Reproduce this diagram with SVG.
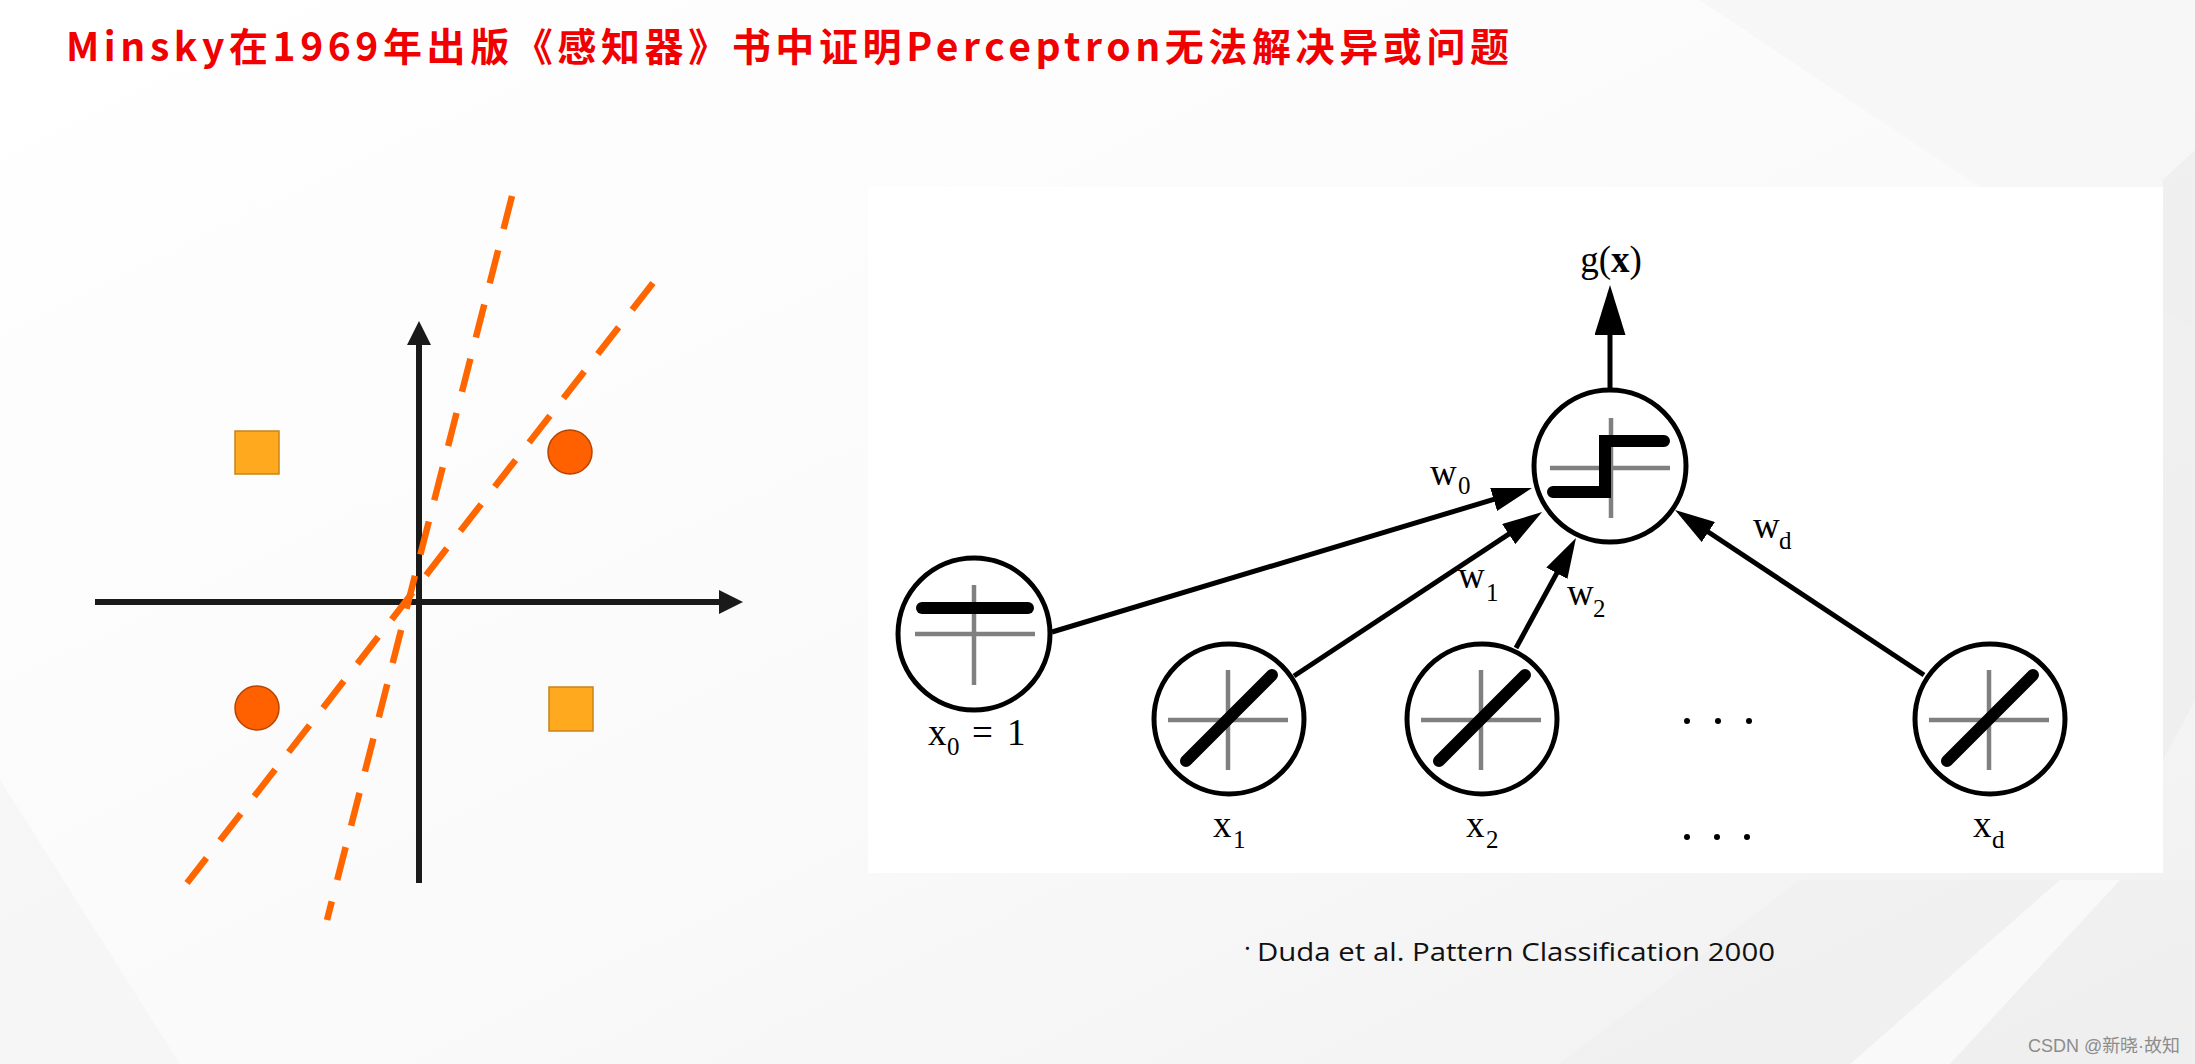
<svg xmlns="http://www.w3.org/2000/svg" width="2195" height="1064" viewBox="0 0 2195 1064">
  <defs>
    <linearGradient id="bg" x1="0" y1="0" x2="1" y2="1">
      <stop offset="0" stop-color="#FFFFFF"/>
      <stop offset="0.55" stop-color="#FAFAFA"/>
      <stop offset="1" stop-color="#F0F0F0"/>
    </linearGradient>
    <marker id="arr" markerUnits="userSpaceOnUse" markerWidth="40" markerHeight="24" refX="20" refY="12" orient="auto">
      <path d="M0,0 L40,12 L0,24 Z" fill="#000"/>
    </marker>
    <marker id="arrBig" markerUnits="userSpaceOnUse" markerWidth="50" markerHeight="31" refX="25" refY="15.5" orient="auto">
      <path d="M0,0 L50,15.5 L0,31 Z" fill="#000"/>
    </marker>
    <marker id="axArr" markerUnits="userSpaceOnUse" markerWidth="24" markerHeight="24" refX="12" refY="12" orient="auto">
      <path d="M0,0 L24,12 L0,24 Z" fill="#1A1A1A"/>
    </marker>
  </defs>
  <style>
    .title{font-family:"Noto Sans CJK SC","Liberation Sans",sans-serif;font-weight:bold;font-size:39px;fill:#F00000}
    .axis{stroke:#1A1A1A;stroke-width:6;fill:none}
    .sep{stroke:#FF6600;stroke-width:6.5;fill:none;stroke-dasharray:34 22}
    .sq{fill:#FFAA1E;stroke:#C8841A;stroke-width:1.5}
    .dot{fill:#FF6000;stroke:#B84400;stroke-width:1.5}
    .ring{fill:#FFFFFF;stroke:#000;stroke-width:5}
    .gray{stroke:#808080;stroke-width:4.5;fill:none}
    .blk{stroke:#000;stroke-width:12;stroke-linecap:round;stroke-linejoin:miter;fill:none}
    .edge{stroke:#000;stroke-width:5;fill:none}
    .lbl{font-family:"Liberation Serif","Times New Roman",serif;font-size:37px;fill:#000}
    .sub{font-family:"Liberation Serif","Times New Roman",serif;font-size:25px;fill:#000}
    .cite{font-family:"Open Sans","Liberation Sans",sans-serif;font-size:26px;fill:#111}
    .wm{font-family:"Liberation Sans","Noto Sans CJK SC",sans-serif;font-size:18px;fill:#8C8C8C}
  </style>

  <!-- background -->
  <rect x="0" y="0" width="2195" height="1064" fill="url(#bg)"/>
  <polygon points="1700,0 2195,0 2195,330" fill="#F3F3F3" opacity="0.5"/>
  <polygon points="2163,180 2195,150 2195,700 2163,760" fill="#ECECEC" opacity="0.7"/>
  <polygon points="1560,1064 1800,880 2195,880 2195,1064" fill="#EEEEEE" opacity="0.5"/>
  <polygon points="1850,1064 2060,880 2120,880 1950,1064" fill="#FAFAFA" opacity="0.9"/>
  <polygon points="0,780 180,1064 0,1064" fill="#F2F2F2" opacity="0.5"/>
  <rect x="868" y="187" width="1295" height="686" fill="#FFFFFF"/>

  <!-- title -->
  <text id="title" class="title" x="66" y="61" textLength="1443" lengthAdjust="spacing">Minsky在1969年出版《感知器》书中证明Perceptron无法解决异或问题</text>

  <!-- XOR plot -->
  <g id="xor-plot">
    <line class="axis" x1="95" y1="602" x2="731" y2="602" marker-end="url(#axArr)"/>
    <line class="axis" x1="419" y1="883" x2="419" y2="333" marker-end="url(#axArr)"/>
    <rect class="sq" x="235" y="431" width="44" height="43"/>
    <rect class="sq" x="549" y="687" width="44" height="44"/>
    <circle class="dot" cx="570" cy="452" r="22"/>
    <circle class="dot" cx="257" cy="708" r="22"/>
    <line class="sep" x1="512" y1="196" x2="327" y2="920"/>
    <line class="sep" x1="653" y1="283" x2="187" y2="883"/>
  </g>

  <!-- connectors -->
  <g id="connectors">
    <line class="edge" x1="1052" y1="632" x2="1512.8" y2="493.7" marker-end="url(#arr)"/>
    <line class="edge" x1="1294" y1="676" x2="1525.4" y2="523.1" marker-end="url(#arr)"/>
    <line class="edge" x1="1516" y1="648" x2="1566.4" y2="555.6" marker-end="url(#arr)"/>
    <line class="edge" x1="1924" y1="675" x2="1691.7" y2="521" marker-end="url(#arr)"/>
    <line class="edge" x1="1610" y1="390" x2="1610" y2="310" stroke-width="7.5" marker-end="url(#arrBig)"/>
  </g>

  <!-- nodes -->
  <g id="node-out">
    <circle class="ring" cx="1610" cy="466" r="76"/>
    <line class="gray" x1="1550" y1="468" x2="1670" y2="468"/>
    <line class="gray" x1="1611" y1="418" x2="1611" y2="518"/>
    <polyline class="blk" points="1553,492 1605,492 1605,441 1664,441"/>
  </g>
  <g id="node-x0">
    <circle class="ring" cx="974" cy="634" r="76"/>
    <line class="gray" x1="915" y1="634" x2="1035" y2="634"/>
    <line class="gray" x1="974" y1="585" x2="974" y2="685"/>
    <line class="blk" x1="922" y1="608" x2="1028" y2="608"/>
  </g>
  <g id="node-x1">
    <circle class="ring" cx="1229" cy="719" r="75"/>
    <line class="gray" x1="1168" y1="720" x2="1288" y2="720"/>
    <line class="gray" x1="1228" y1="670" x2="1228" y2="770"/>
    <line class="blk" x1="1186" y1="761" x2="1272" y2="675"/>
  </g>
  <g id="node-x2">
    <circle class="ring" cx="1482" cy="719" r="75"/>
    <line class="gray" x1="1421" y1="720" x2="1541" y2="720"/>
    <line class="gray" x1="1481" y1="670" x2="1481" y2="770"/>
    <line class="blk" x1="1439" y1="761" x2="1525" y2="675"/>
  </g>
  <g id="node-xd">
    <circle class="ring" cx="1990" cy="719" r="75"/>
    <line class="gray" x1="1929" y1="720" x2="2049" y2="720"/>
    <line class="gray" x1="1989" y1="670" x2="1989" y2="770"/>
    <line class="blk" x1="1947" y1="761" x2="2033" y2="675"/>
  </g>

  <!-- labels -->
  <g id="labels">
    <text class="lbl" x="1611" y="272" text-anchor="middle" font-size="40">g(<tspan font-weight="bold">x</tspan>)</text>
    <text class="lbl" x="1430" y="485">w</text><text class="sub" x="1458" y="494">0</text>
    <text class="lbl" x="1458" y="588">w</text><text class="sub" x="1486" y="601">1</text>
    <text class="lbl" x="1567" y="605">w</text><text class="sub" x="1593" y="617">2</text>
    <text class="lbl" x="1753" y="538">w</text><text class="sub" x="1779" y="549">d</text>
    <text class="lbl" x="928" y="745">x</text><text class="sub" x="947" y="755">0</text>
    <text class="lbl" x="972" y="745">=</text><text class="lbl" x="1007" y="745">1</text>
    <text class="lbl" x="1213" y="837">x</text><text class="sub" x="1233" y="848">1</text>
    <text class="lbl" x="1466" y="837">x</text><text class="sub" x="1486" y="848">2</text>
    <text class="lbl" x="1973" y="837">x</text><text class="sub" x="1992" y="848">d</text>
    <circle cx="1687" cy="721" r="3"/><circle cx="1718" cy="721" r="3"/><circle cx="1749" cy="721" r="3"/>
    <circle cx="1687" cy="837" r="3"/><circle cx="1717" cy="837" r="3"/><circle cx="1747" cy="837" r="3"/>
  </g>

  <!-- citation & watermark -->
  <text class="cite" x="1244" y="957">·</text>
  <text class="cite" x="1257" y="961" textLength="518" lengthAdjust="spacingAndGlyphs">Duda et al. Pattern Classification 2000</text>
  <text class="wm" x="2028" y="1052" textLength="152" lengthAdjust="spacingAndGlyphs">CSDN @新晓·故知</text>
</svg>
